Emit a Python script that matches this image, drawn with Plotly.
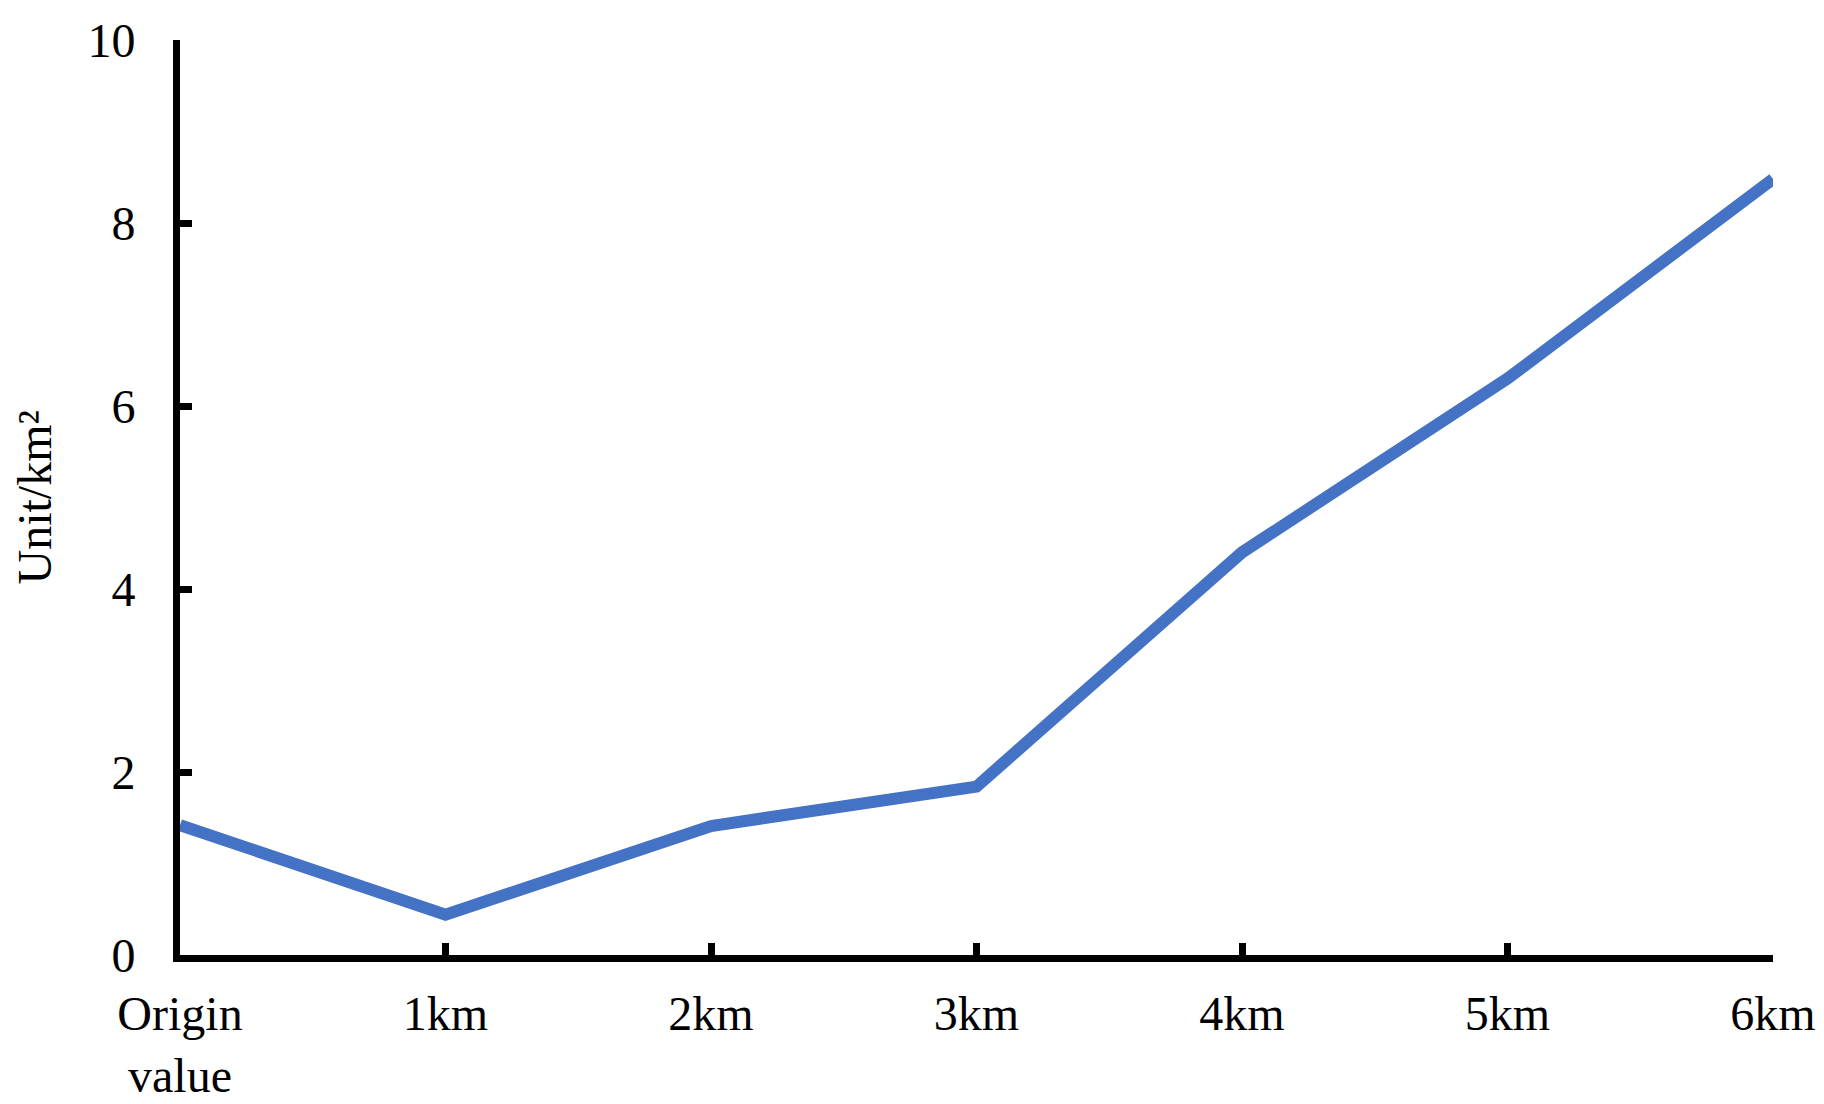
import plotly.graph_objects as go

categories = ["Origin<br>value", "1km", "2km", "3km", "4km", "5km", "6km"]
values = [1.42, 0.44, 1.41, 1.84, 4.40, 6.30, 8.48]
y_ticks = [0, 2, 4, 6, 8, 10]

positions = list(range(len(categories)))
FONT = "Liberation Serif, Times New Roman, serif"

fig = go.Figure()
fig.add_trace(go.Scatter(
    x=positions, y=values, mode="lines",
    line=dict(color="#4472C4", width=12),
    cliponaxis=False, showlegend=False,
))

fig.update_layout(
    width=1824, height=1104,
    margin=dict(l=180, r=51, t=40, b=149),
    paper_bgcolor="white", plot_bgcolor="white",
    font=dict(family=FONT, size=48, color="black"),
    xaxis=dict(
        range=[0, 6], tickvals=positions, ticktext=categories,
        showline=True, linecolor="black", linewidth=7,
        ticks="inside", ticklen=12, tickwidth=7, tickcolor="black",
        showgrid=False, zeroline=False, fixedrange=True,
        ticklabelstandoff=10, automargin=False,
    ),
    yaxis=dict(
        range=[0, 10], tickvals=y_ticks,
        showline=True, linecolor="black", linewidth=7,
        ticks="inside", ticklen=12, tickwidth=7, tickcolor="black",
        showgrid=False, zeroline=False, fixedrange=True,
        ticklabelstandoff=28, automargin=False,
    ),
    annotations=[dict(
        text="Unit/km²", textangle=-90, showarrow=False,
        xref="paper", yref="paper", x=(34 - 180) / 1593, y=0.5,
        xanchor="center", yanchor="middle",
        font=dict(family=FONT, size=48, color="black"),
    )],
)

fig.write_html(
    "out.html",
    config={"displayModeBar": False},
    post_script="document.body.style.margin='0px';document.body.style.overflow='hidden';",
)
